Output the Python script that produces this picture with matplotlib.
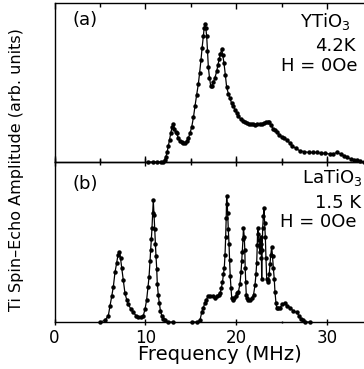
import matplotlib
matplotlib.use("Agg")
import matplotlib.pyplot as plt
from matplotlib.ticker import MultipleLocator

plt.rcParams["font.family"] = ["DejaVu Sans"]
plt.rcParams["mathtext.default"] = "regular"

# ---- YTiO3, 4.2 K, zero field ----
freq_y = [10.33, 10.8, 11.3, 11.7, 11.98, 12.12, 12.25, 12.4, 12.53, 12.67, 12.80, 12.95,
          13.08, 13.2, 13.33, 13.46, 13.64, 13.82, 14.0, 14.18, 14.37, 14.55, 14.74, 14.92,
          15.11, 15.3, 15.47, 15.65, 15.84, 15.98, 16.13, 16.26, 16.39, 16.48, 16.57, 16.67,
          16.76, 16.85, 16.94, 17.07, 17.20, 17.35, 17.49, 17.67, 17.86, 18.0, 18.15, 18.28,
          18.41, 18.54, 18.67, 18.81, 18.96, 19.15, 19.33, 19.5, 19.69, 19.87, 20.05, 20.24,
          20.5, 20.75, 20.98, 21.2, 21.45, 21.68, 21.89, 22.1, 22.35, 22.6, 22.82, 23.05,
          23.3, 23.5, 23.66, 23.85, 24.05, 24.25, 24.47, 24.75, 25.0, 25.3, 25.57, 25.9,
          26.2, 26.6, 27.04, 27.5, 28.0, 28.45, 28.88, 29.3, 29.8, 30.3, 30.7, 31.08,
          31.5, 31.85, 32.18, 32.6, 33.0, 33.28, 33.7, 34.1]
amp_y = [0.0, 0.0, 0.0, 0.0, 0.0, 0.01, 0.03, 0.06, 0.10, 0.14, 0.18, 0.22,
         0.24, 0.21, 0.19, 0.18, 0.15, 0.13, 0.125, 0.12, 0.12, 0.13, 0.15, 0.18,
         0.22, 0.28, 0.35, 0.42, 0.49, 0.56, 0.64, 0.72, 0.79, 0.84, 0.87, 0.84,
         0.79, 0.70, 0.60, 0.53, 0.48, 0.48, 0.50, 0.53, 0.57, 0.61, 0.65, 0.68,
         0.71, 0.67, 0.62, 0.55, 0.47, 0.43, 0.40, 0.37, 0.35, 0.33, 0.31, 0.29,
         0.27, 0.26, 0.25, 0.245, 0.24, 0.24, 0.24, 0.235, 0.24, 0.24, 0.24, 0.245,
         0.25, 0.25, 0.25, 0.23, 0.21, 0.20, 0.19, 0.17, 0.16, 0.15, 0.14, 0.12,
         0.10, 0.085, 0.07, 0.065, 0.06, 0.06, 0.06, 0.055, 0.055, 0.05, 0.05, 0.06,
         0.05, 0.04, 0.03, 0.02, 0.015, 0.01, 0.005, 0.0]

# ---- LaTiO3, 1.5 K, zero field (two scanned windows) ----
freq_la1 = [5.01, 5.56, 5.93, 6.11, 6.30, 6.48, 6.66, 6.85, 6.99, 7.14, 7.27, 7.40,
            7.58, 7.76, 7.95, 8.13, 8.42, 8.68, 8.98, 9.23, 9.53, 9.78, 9.97, 10.15,
            10.30, 10.41, 10.52, 10.59, 10.67, 10.74, 10.81, 10.88, 10.96, 11.04, 11.11,
            11.18, 11.26, 11.32, 11.43, 11.54, 11.67, 11.81, 12.0, 12.17, 12.5, 13.05]
amp_la1 = [0.0, 0.01, 0.04, 0.10, 0.16, 0.22, 0.31, 0.37, 0.42, 0.44, 0.40, 0.34,
           0.26, 0.18, 0.14, 0.11, 0.08, 0.06, 0.04, 0.03, 0.03, 0.04, 0.08, 0.14,
           0.22, 0.28, 0.38, 0.45, 0.52, 0.59, 0.68, 0.76, 0.67, 0.58, 0.49,
           0.41, 0.33, 0.24, 0.17, 0.12, 0.07, 0.04, 0.02, 0.01, 0.0, 0.0]

freq_la2 = [15.14, 15.69, 16.02, 16.21, 16.39, 16.57, 16.74, 16.90, 17.18, 17.46, 17.68,
            17.90, 18.12, 18.23, 18.37, 18.50, 18.61, 18.70, 18.78, 18.85, 18.91, 18.96,
            19.02, 19.07, 19.14, 19.22, 19.28, 19.35, 19.44, 19.52, 19.66, 19.82, 19.99,
            20.15, 20.26, 20.43, 20.54, 20.62, 20.68, 20.76, 20.81, 20.90, 20.96, 21.0,
            21.06, 21.12, 21.23, 21.34, 21.53, 21.75, 21.92, 22.08, 22.19, 22.27, 22.33,
            22.38, 22.45, 22.52, 22.59, 22.63, 22.70, 22.74, 22.79, 22.82, 22.87, 22.93,
            23.0, 23.07, 23.14, 23.22, 23.29, 23.37, 23.46, 23.55, 23.65, 23.73, 23.82,
            23.92, 24.01, 24.10, 24.20, 24.28, 24.39, 24.47, 24.65, 24.83, 25.11, 25.39,
            25.66, 25.94, 26.27, 26.67, 26.93, 27.15, 27.37, 27.59, 28.14]
amp_la2 = [0.0, 0.0, 0.01, 0.06, 0.09, 0.12, 0.14, 0.16, 0.16, 0.16, 0.15,
           0.16, 0.17, 0.18, 0.21, 0.25, 0.30, 0.34, 0.42, 0.53, 0.65, 0.79,
           0.74, 0.68, 0.58, 0.49, 0.39, 0.29, 0.21, 0.15, 0.14, 0.15, 0.16,
           0.18, 0.19, 0.24, 0.31, 0.38, 0.44, 0.52, 0.59, 0.53, 0.45, 0.34,
           0.25, 0.17, 0.15, 0.14, 0.14, 0.15, 0.17, 0.23, 0.30, 0.37, 0.48,
           0.59, 0.55, 0.51, 0.47, 0.44, 0.49, 0.53, 0.40, 0.27, 0.45, 0.59,
           0.66, 0.71, 0.62, 0.53, 0.40, 0.27, 0.26, 0.25, 0.30, 0.36, 0.42,
           0.47, 0.41, 0.34, 0.27, 0.19, 0.12, 0.09, 0.09, 0.09, 0.11, 0.12,
           0.10, 0.09, 0.07, 0.06, 0.04, 0.02, 0.01, 0.0, 0.0]

W, H = 364, 369
fig = plt.figure(figsize=(W / 100, H / 100), dpi=100)

left = 54.5 / W
ax_a = fig.add_axes([left, 1 - 162 / H, 1 - left + 0.01, (162 - 3) / H])
ax_b = fig.add_axes([left, 1 - 322 / H, 1 - left + 0.01, (322 - 162) / H])

line_kw = dict(color="black", lw=0.9, marker="o", ms=2.2, mfc="black", mec="black")
ax_a.plot(freq_y, amp_y, clip_on=False, **line_kw)
ax_b.plot(freq_la1, amp_la1, clip_on=False, **line_kw)
ax_b.plot(freq_la2, amp_la2, clip_on=False, **line_kw)

xmax = (W + 0.01 * W - 54.5) / 9.08
for ax in (ax_a, ax_b):
    ax.set_xlim(0, xmax)
    ax.set_ylim(0, 1)
    ax.set_yticks([])
    ax.spines["right"].set_visible(False)
    for s in ax.spines.values():
        s.set_linewidth(1.0)
    ax.xaxis.set_major_locator(MultipleLocator(10))
    ax.xaxis.set_minor_locator(MultipleLocator(5))
    ax.patch.set_alpha(0)

# upper panel: ticks on top edge only, inward
ax_a.tick_params(axis="x", which="both", direction="in", top=True, bottom=True,
                 labelbottom=False, width=1.0)
ax_a.tick_params(axis="x", which="major", length=4)
ax_a.tick_params(axis="x", which="minor", length=3)
# lower panel: shared edge ticks cross the line
ax_b.tick_params(axis="x", which="both", direction="inout", top=True, bottom=True,
                 labelbottom=True, width=1.0, labelsize=12, pad=2)
ax_b.tick_params(axis="x", which="major", length=6)
ax_b.tick_params(axis="x", which="minor", length=5)
for t in ax_b.xaxis.get_major_ticks():
    t.tick1line.set_markersize(4)
for t in ax_b.xaxis.get_minor_ticks():
    t.tick1line.set_markersize(2)

ax_b.set_xlabel("Frequency (MHz)", fontsize=14)
ax_b.xaxis.set_label_coords((220 - 54.5) / (W * (1 - left + 0.01)), -(355 - 322) / 160)
ax_b.xaxis.label.set_va("center")

fig.text(17 / W, 1 - 170 / H, "Ti Spin\u2013Echo Amplitude (arb. units)",
         rotation=90, ha="center", va="center", fontsize=11.5)

fs = 13
def put(x, y, s):
    fig.text(x / W, 1 - y / H, s, ha="left", va="center", fontsize=fs)

put(73, 20, "(a)")
put(300, 21, "YTiO$_3$")
put(315, 46, "4.2K")
put(281, 66, "H = 0Oe")
put(73, 184, "(b)")
put(302, 178, "LaTiO$_3$")
put(315, 203, "1.5 K")
put(280, 222, "H = 0Oe")

fig.savefig("out.png", dpi=100)
